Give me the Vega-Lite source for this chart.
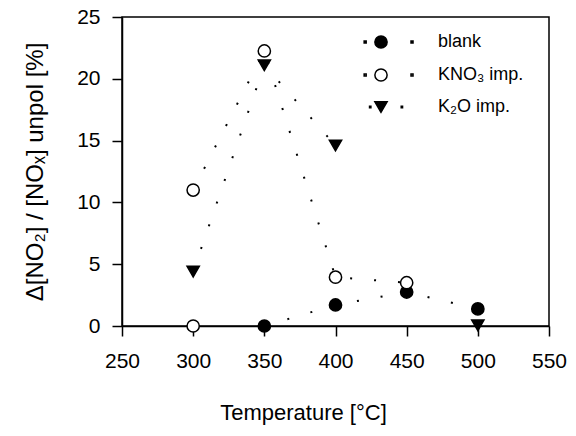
{
  "$schema": "https://vega.github.io/schema/vega-lite/v6.json",
  "autosize": "none",
  "width": 427,
  "height": 309,
  "padding": {"left": 122, "top": 17, "right": 27, "bottom": 110},
  "background": "white",
  "config": {
    "font": "Liberation Sans",
    "view": {"stroke": "black", "strokeWidth": 1.5},
    "axis": {
      "grid": false,
      "domainColor": "black",
      "domainWidth": 1.5,
      "tickColor": "black",
      "tickWidth": 1.5,
      "tickSize": 10,
      "labelFlush": false,
      "labelOverlap": false,
      "labelFont": "Liberation Sans",
      "labelFontSize": 21,
      "labelColor": "black",
      "titleFont": "Liberation Sans",
      "titleFontSize": 22,
      "titleFontWeight": "normal",
      "titleColor": "black"
    }
  },
  "data": {
    "values": [
      {"T": 300, "v": 0, "series": "KNO3", "seg": null},
      {"T": 350, "v": 0, "series": "blank", "seg": "b"},
      {"T": 400, "v": 1.7, "series": "blank", "seg": "b"},
      {"T": 450, "v": 2.75, "series": "blank", "seg": "b"},
      {"T": 500, "v": 1.38, "series": "blank", "seg": "b"},
      {"T": 300, "v": 11.0, "series": "KNO3", "seg": "k"},
      {"T": 350, "v": 22.25, "series": "KNO3", "seg": "k"},
      {"T": 400, "v": 3.95, "series": "KNO3", "seg": "k"},
      {"T": 450, "v": 3.5, "series": "KNO3", "seg": "k"},
      {"T": 300, "v": 4.4, "series": "K2O", "seg": "t"},
      {"T": 350, "v": 21.1, "series": "K2O", "seg": "t"},
      {"T": 400, "v": 14.6, "series": "K2O", "seg": "t"},
      {"T": 500, "v": 0.05, "series": "K2O", "seg": null}
    ]
  },
  "layer": [
    {
      "transform": [{"filter": "datum.seg != null"}],
      "mark": {"type": "line", "color": "black", "strokeWidth": 2, "strokeDash": [2, 22], "strokeCap": "butt"},
      "encoding": {
        "x": {"field": "T", "type": "quantitative"},
        "y": {"field": "v", "type": "quantitative"},
        "detail": {"field": "seg"}
      }
    },
    {
      "transform": [{"calculate": "datum.series", "as": "grp"}],
      "mark": {"type": "point", "filled": false, "stroke": "black", "strokeWidth": 1.5, "opacity": 1},
      "encoding": {
        "x": {
          "field": "T", "type": "quantitative",
          "scale": {"domain": [250, 550], "nice": false, "zero": false},
          "axis": {"values": [250, 300, 350, 400, 450, 500, 550], "title": "Temperature [°C]", "titleX": 181, "titleY": 86, "titleBaseline": "middle", "titleAlign": "center", "labelPadding": 14}
        },
        "y": {
          "field": "v", "type": "quantitative",
          "scale": {"domain": [0, 25], "nice": false},
          "axis": {"values": [0, 5, 10, 15, 20, 25], "title": "Δ[NO₂] / [NOₓ] unpol [%]", "titleFontSize": 24, "titlePadding": 29, "labelPadding": 12}
        },
        "fill": {
          "field": "series", "type": "nominal",
          "scale": {"domain": ["blank", "KNO3", "K2O"], "range": ["black", "white", "black"]},
          "legend": {
            "title": null,
            "orient": "none",
            "legendX": 250,
            "legendY": 16,
            "padding": 0,
            "symbolStrokeColor": "black",
            "symbolStrokeWidth": 1.5,
            "symbolOpacity": 1,
            "labelFontSize": 18,
            "labelFont": "Liberation Sans",
            "labelColor": "black",
            "labelOffset": 48,
            "rowPadding": 13,
            "labelExpr": "datum.value == 'KNO3' ? 'KNO₃ imp.' : datum.value == 'K2O' ? 'K₂O imp.' : 'blank'",
            "encode": {
              "symbols": {
                "update": {
                  "shape": {"signal": "datum.value == 'K2O' ? 'M0,0.866L-1,-0.866L1,-0.866Z M-1.87,-0.11h0.22v0.22h-0.22Z M3.3,-0.11h0.22v0.22h-0.22Z' : 'M-1,0A1,1 0 1,0 1,0A1,1 0 1,0 -1,0Z M-2.75,-0.16h0.33v0.33h-0.33Z M4.9,-0.16h0.33v0.33h-0.33Z'"}
                }
              }
            }
          }
        },
        "shape": {
          "field": "grp", "type": "nominal",
          "scale": {"domain": ["K2O", "KNO3", "blank"], "range": ["triangle-down", "circle", "circle"]},
          "legend": null
        },
        "size": {
          "field": "series", "type": "nominal",
          "scale": {"domain": ["blank", "KNO3", "K2O"], "range": [150, 150, 330]}
        }
      }
    }
  ]
}
